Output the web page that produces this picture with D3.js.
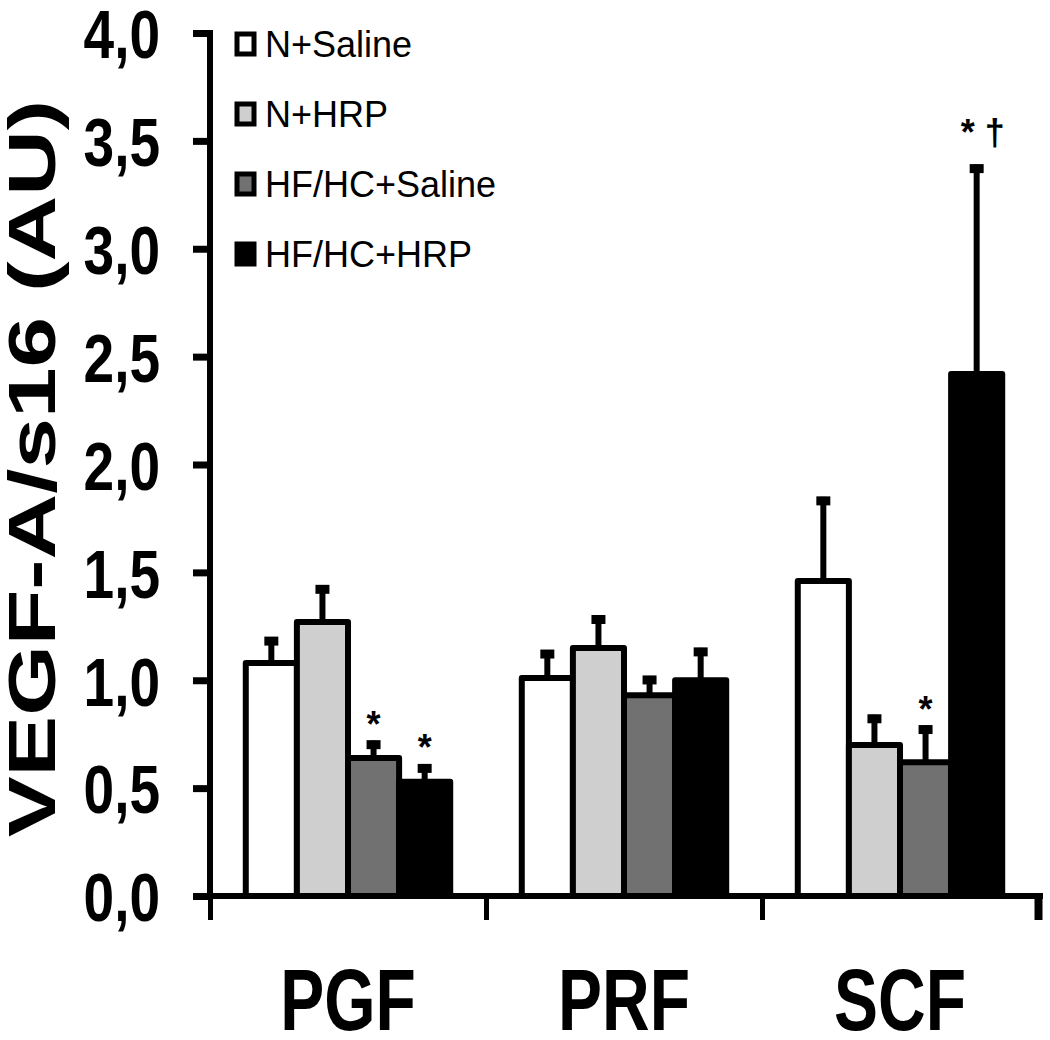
<!DOCTYPE html>
<html lang="en">
<head>
    <meta charset="utf-8" />
    <title>VEGF-A/s16</title>
    <style type="text/css">
        body { margin: 0; background: #fff; }
        svg text { font-family: "Liberation Sans", Arial, sans-serif; fill: #000; }
    </style>
    <script type="text/javascript" src="https://cdn.jsdelivr.net/npm/d3@7/dist/d3.min.js"></script>
</head>
<body>
    <div id="chart"></div>

    <script type="text/javascript">
        // data
        const categories = ['PGF', 'PRF', 'SCF'];
        const groups = ['N+Saline', 'N+HRP', 'HF/HC+Saline', 'HF/HC+HRP'];
        const colors = ['#ffffff', '#cfcfcf', '#717171', '#000000'];
        const means = [
            [1.08, 1.27, 0.64, 0.53],
            [1.01, 1.15, 0.93, 1.00],
            [1.46, 0.70, 0.62, 2.42]
        ];
        const errors = [
            [0.12, 0.17, 0.08, 0.08],
            [0.13, 0.15, 0.09, 0.15],
            [0.39, 0.14, 0.17, 0.97]
        ];
        const marks = [
            ['', '', '*', '*'],
            ['', '', '', ''],
            ['', '', '*', '* †']
        ];
        const yTicks = [0, 0.5, 1, 1.5, 2, 2.5, 3, 3.5, 4];

        const width = 1050, height = 1040;
        const plotLeft = 210, plotRight = 1038, plotTop = 33, plotBottom = 896;

        const svg = d3.select('#chart').append('svg')
            .attr('width', width)
            .attr('height', height);

        const x = d3.scaleBand().domain(categories).range([plotLeft, plotRight]);
        const x1 = d3.scaleBand().domain(groups).range([0, x.bandwidth()]).paddingOuter(0.7);
        const y = d3.scaleLinear().domain([0, 4]).range([plotBottom, plotTop]);
        const xEdge = d3.scaleLinear().domain([0, categories.length]).range([plotLeft, plotRight]);

        const comma = d3.formatLocale({decimal: ',', thousands: '.', grouping: [3], currency: ['', '']}).format('.1f');

        let rows = [];
        categories.forEach((c, i) => {
            groups.forEach((g, j) => {
                rows.push({cat: c, grp: g, j: j, v: means[i][j], e: errors[i][j], m: marks[i][j]});
            });
        });

        // bars
        svg.append('g').selectAll('rect')
            .data(rows)
            .enter().append('rect')
            .attr('x', (d) => x(d.cat) + x1(d.grp))
            .attr('y', (d) => y(d.v))
            .attr('width', x1.bandwidth())
            .attr('height', (d) => y(0) - y(d.v))
            .style('fill', (d) => colors[d.j])
            .style('stroke', '#000')
            .style('stroke-width', 6)
            .style('stroke-linejoin', 'round');

        // error bars
        let err = svg.append('g').selectAll('g')
            .data(rows)
            .enter().append('g');
        err.append('line')
            .attr('x1', (d) => x(d.cat) + x1(d.grp) + x1.bandwidth() / 2)
            .attr('x2', (d) => x(d.cat) + x1(d.grp) + x1.bandwidth() / 2)
            .attr('y1', (d) => y(d.v))
            .attr('y2', (d) => y(d.v + d.e))
            .style('stroke', '#000')
            .style('stroke-width', 6);
        err.append('line')
            .attr('x1', (d) => x(d.cat) + x1(d.grp) + x1.bandwidth() / 2 - 7)
            .attr('x2', (d) => x(d.cat) + x1(d.grp) + x1.bandwidth() / 2 + 7)
            .attr('y1', (d) => y(d.v + d.e) + 4)
            .attr('y2', (d) => y(d.v + d.e) + 4)
            .style('stroke', '#000')
            .style('stroke-width', 9);

        // significance marks
        svg.append('g').selectAll('text')
            .data(rows.filter((d) => d.m !== ''))
            .enter().append('text')
            .attr('x', (d) => x(d.cat) + x1(d.grp) + x1.bandwidth() / 2 + (d.m.length > 1 ? 6 : 0))
            .attr('y', (d) => y(d.v + d.e) - (d.m.length > 1 ? 20 : 4))
            .attr('text-anchor', 'middle')
            .style('font-size', '36px')
            .style('font-weight', 700)
            .text((d) => d.m);

        // y axis
        let yAxis = svg.append('g')
            .attr('transform', 'translate(' + plotLeft + ',0)')
            .call(d3.axisLeft(y).tickValues(yTicks).tickFormat(comma).tickSize(17).tickSizeOuter(0).tickPadding(33));
        yAxis.select('.domain').style('stroke-width', 6).attr('d', 'M0,' + (plotTop - 3) + 'V' + (plotBottom + 3));
        yAxis.selectAll('.tick line').style('stroke-width', 7);
        yAxis.selectAll('.tick text')
            .attr('dy', '0.36em')
            .attr('transform', 'scale(1,1.25)')
            .style('font-size', '55px')
            .style('font-weight', 700)
            .style('font-family', '"Liberation Sans", Arial, sans-serif');

        // x axis (ticks at category edges)
        let xAxis = svg.append('g')
            .attr('transform', 'translate(0,' + plotBottom + ')')
            .call(d3.axisBottom(xEdge).tickValues([0, 1, 2, 3]).tickFormat('').tickSize(24).tickSizeOuter(0));
        xAxis.select('.domain').style('stroke-width', 6).attr('d', 'M' + (plotLeft - 3) + ',0H' + (plotRight + 5));
        xAxis.selectAll('.tick line').style('stroke-width', 5);
        xAxis.selectAll('.tick:last-of-type line').style('stroke-width', 8);

        // category labels
        svg.append('g').selectAll('text')
            .data(categories)
            .enter().append('text')
            .attr('transform', (d) => 'translate(' + (x(d) + x.bandwidth() / 2) + ',1030) scale(1,1.32)')
            .attr('text-anchor', 'middle')
            .style('font-size', '66px')
            .style('font-weight', 700)
            .text((d) => d);

        // y title
        svg.append('text')
            .attr('transform', 'translate(55,' + ((100 + 837) / 2) + ') rotate(-90)')
            .attr('text-anchor', 'middle')
            .attr('textLength', 737)
            .attr('lengthAdjust', 'spacingAndGlyphs')
            .style('font-size', '67px')
            .style('font-weight', 700)
            .text('VEGF-A/s16 (AU)');

        // legend
        let legend = svg.selectAll('.legends')
            .data(groups)
            .enter().append('g')
            .attr('class', 'legends')
            .attr('transform', (d, i) => 'translate(237,' + (44 + i * 70) + ')');
        legend.append('rect')
            .attr('x', 0)
            .attr('y', -10)
            .attr('width', 17)
            .attr('height', 20)
            .style('fill', (d, i) => colors[i])
            .style('stroke', '#000')
            .style('stroke-width', 5);
        legend.append('text')
            .attr('x', 28)
            .attr('y', 13)
            .style('font-size', '36px')
            .text((d) => d);
    </script>
</body>
</html>
